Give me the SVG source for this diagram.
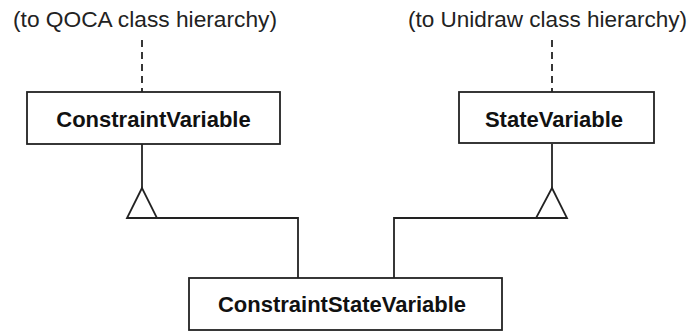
<svg xmlns="http://www.w3.org/2000/svg" width="691" height="331" viewBox="0 0 691 331">
<style>
.box{fill:#fff;stroke:#222;stroke-width:1.8}
.ln{fill:none;stroke:#222;stroke-width:1.8}
.dash{fill:none;stroke:#222;stroke-width:1.8;stroke-dasharray:7 5}
.tri{fill:#fff;stroke:#222;stroke-width:1.8;stroke-linejoin:miter}
.lbl{font-family:"Liberation Sans",Arial,sans-serif;font-size:22px;fill:#222;text-anchor:middle}
.nm{font-family:"Liberation Sans",Arial,sans-serif;font-size:22px;font-weight:bold;fill:#111;text-anchor:middle}
</style>
<rect width="691" height="331" fill="#fff"/>
<g id="connectors">
<line class="dash" x1="142" y1="40" x2="142" y2="92"/>
<line class="dash" x1="552" y1="40" x2="552" y2="92"/>
<polyline class="ln" points="142,144 142,188"/>
<polyline class="ln" points="552,144 552,188"/>
<polygon class="tri" points="142,188 127,218 157,218"/>
<polygon class="tri" points="552,188 536,218 567,218"/>
<polyline class="ln" points="157,218 298,218 298,278"/>
<polyline class="ln" points="536,218 394,218 394,278"/>
</g>
<g id="label-qoca"><text class="lbl" x="145" y="27" textLength="264" lengthAdjust="spacingAndGlyphs">(to QOCA class hierarchy)</text></g>
<g id="label-unidraw"><text class="lbl" x="547.5" y="27" textLength="279" lengthAdjust="spacingAndGlyphs">(to Unidraw class hierarchy)</text></g>
<g id="ConstraintVariable">
<rect class="box" x="27" y="92" width="253" height="52"/>
<text class="nm" x="153.5" y="127">ConstraintVariable</text>
</g>
<g id="StateVariable">
<rect class="box" x="459" y="92" width="195" height="51"/>
<text class="nm" x="554" y="127">StateVariable</text>
</g>
<g id="ConstraintStateVariable">
<rect class="box" x="189" y="278" width="313" height="52"/>
<text class="nm" x="342" y="312">ConstraintStateVariable</text>
</g>
</svg>
